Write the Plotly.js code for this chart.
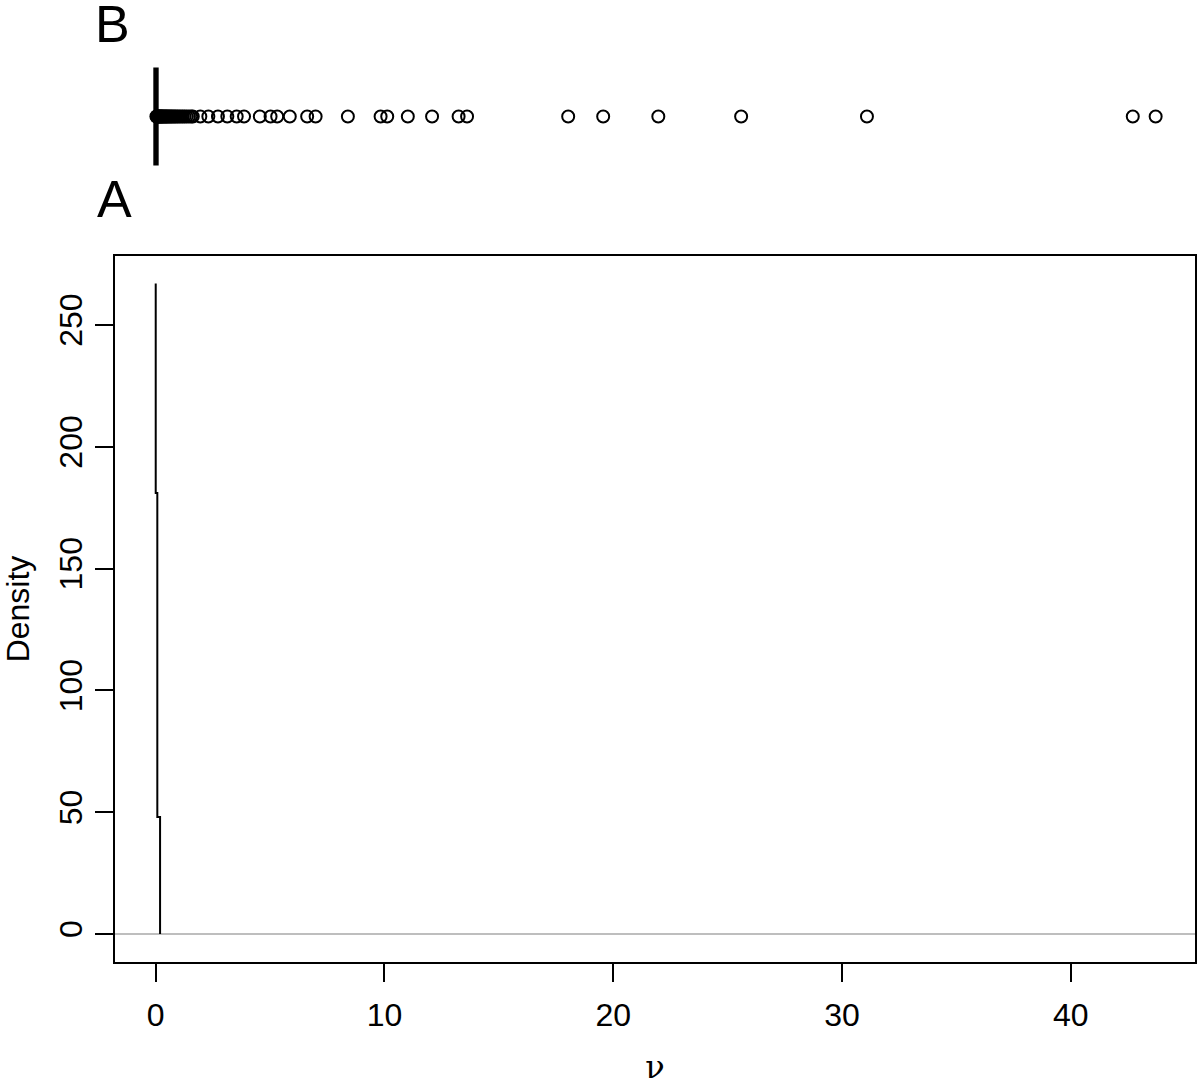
<!DOCTYPE html>
<html>
<head>
<meta charset="utf-8">
<script src="https://cdn.plot.ly/plotly-3.0.1.min.js"></script>
<style>html,body{margin:0;padding:0;background:#fff;}#chart{width:1200px;height:1086px;}</style>
</head>
<body>
<div id="chart"></div>
<script>
// Panel A: kernel density of nu
const densX = [0, 0.07, 0.19, 0.19];
const densY = [267, 181, 48, 0];

// Panel B: boxplot summary of nu
const boxQ1 = [0.004];
const boxMedian = [0.01];
const boxQ3 = [0.02];
const boxLower = [0];
const boxUpper = [0.05];

// Panel B: outlying nu values (open circles)
const outliers = [0.03, 0.05, 0.08, 0.1, 0.12, 0.15, 0.18, 0.21, 0.24, 0.27, 0.3, 0.34, 0.38,
  0.42, 0.46, 0.5, 0.55, 0.6, 0.65, 0.7, 0.76, 0.82, 0.88, 0.95, 1.02, 1.1, 1.18, 1.26, 1.35,
  1.45, 1.55, 1.62, 1.95, 2.3, 2.72, 3.13, 3.54, 3.86, 4.55, 5.02, 5.31, 5.86, 6.62, 6.99,
  8.40, 9.83, 10.12, 11.02, 12.08, 13.24, 13.61, 18.03, 19.56, 21.97, 25.59, 31.09, 42.71, 43.71];

const xTicks = [0, 10, 20, 30, 40];
const yTicks = [0, 50, 100, 150, 200, 250];

const FONT = 'Liberation Sans, Arial, sans-serif';

const traces = [
  {
    type: 'scatter', mode: 'lines', x: densX, y: densY,
    line: {color: '#000', width: 2, shape: 'vh'},
    xaxis: 'x', yaxis: 'y', hoverinfo: 'skip', showlegend: false
  },
  {
    type: 'box', orientation: 'h', y: [0],
    q1: boxQ1, median: boxMedian, q3: boxQ3, lowerfence: boxLower, upperfence: boxUpper,
    width: 1.55, whiskerwidth: 0, boxpoints: false,
    line: {color: '#000', width: 5}, fillcolor: 'rgba(255,255,255,0)',
    xaxis: 'x2', yaxis: 'y2', showlegend: false, hoverinfo: 'skip'
  },
  {
    type: 'scatter', mode: 'markers', x: outliers, y: outliers.map(() => 0),
    marker: {symbol: 'circle-open', size: 12, color: '#000', line: {width: 2, color: '#000'}},
    xaxis: 'x2', yaxis: 'y2', showlegend: false, hoverinfo: 'skip'
  }
];

const layout = {
  width: 1200, height: 1086,
  margin: {l: 115, r: 5, t: 0, b: 124},
  paper_bgcolor: '#fff', plot_bgcolor: '#fff',
  font: {family: FONT, size: 32, color: '#000'},
  showlegend: false,
  xaxis: {
    domain: [0, 1], anchor: 'y',
    range: [-1.78, 45.43],
    tickvals: xTicks, ticktext: xTicks.map(String),
    ticks: 'outside', ticklen: 18, tickwidth: 2, tickcolor: '#000',
    ticklabelstandoff: 6,
    showline: true, mirror: true, linewidth: 2, linecolor: '#000',
    showgrid: false, zeroline: false,
    tickfont: {family: FONT, size: 32, color: '#000'},
    title: {text: 'ν', font: {family: 'DejaVu Serif, Liberation Serif, serif', size: 32, color: '#000'}, standoff: 30}
  },
  yaxis: {
    domain: [0, 0.7339], anchor: 'x',
    range: [-11.5, 278.3],
    tickvals: yTicks, ticktext: yTicks.map(String),
    tickangle: -90,
    ticks: 'outside', ticklen: 18, tickwidth: 2, tickcolor: '#000',
    ticklabelstandoff: 0,
    showline: true, mirror: true, linewidth: 2, linecolor: '#000',
    showgrid: false,
    zeroline: true, zerolinecolor: '#BEBEBE', zerolinewidth: 2,
    tickfont: {family: FONT, size: 32, color: '#000'},
    title: {text: 'Density', font: {family: FONT, size: 32, color: '#000'}, standoff: 26}
  },
  xaxis2: {
    domain: [0, 1], anchor: 'y2', matches: 'x',
    visible: false, showgrid: false, zeroline: false
  },
  yaxis2: {
    domain: [0.8165, 0.9413], anchor: 'x2',
    range: [-1, 1],
    visible: false, showgrid: false, zeroline: false
  },
  annotations: [
    {text: 'B', xref: 'paper', yref: 'paper', x: -0.0023, y: 0.975,
     xanchor: 'center', yanchor: 'middle', showarrow: false,
     font: {family: FONT, size: 52, color: '#000'}},
    {text: 'A', xref: 'paper', yref: 'paper', x: -0.0009, y: 0.793,
     xanchor: 'center', yanchor: 'middle', showarrow: false,
     font: {family: FONT, size: 52, color: '#000'}}
  ]
};

Plotly.newPlot('chart', traces, layout, {displayModeBar: false, staticPlot: true});
</script>
</body>
</html>
